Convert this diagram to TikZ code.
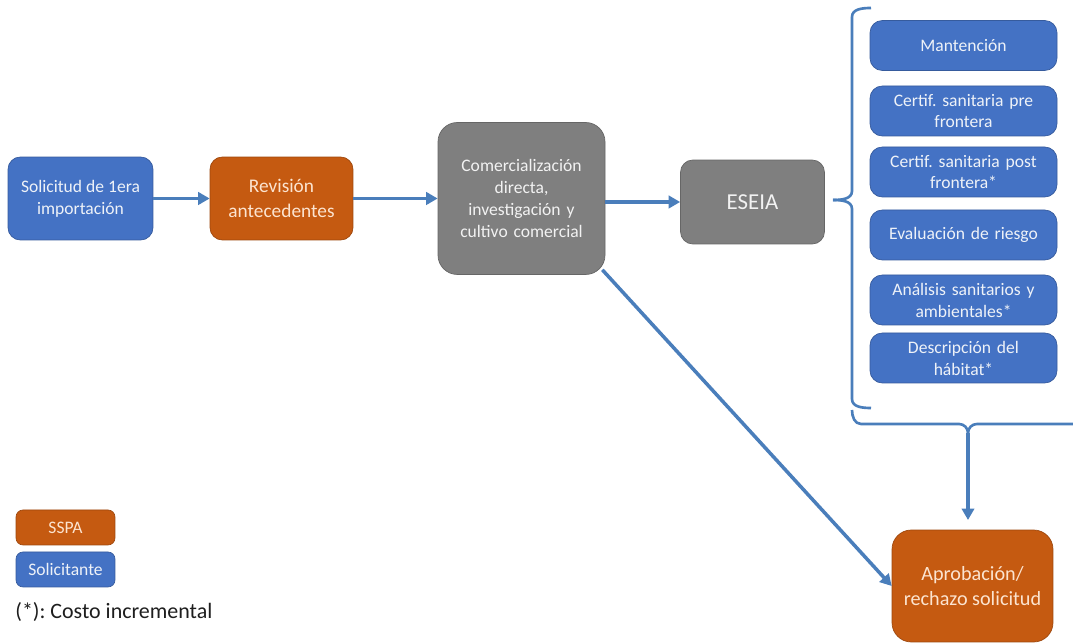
\documentclass[tikz,border=0pt]{standalone}
\usepackage{fontspec}
\setmainfont{Carlito}
\usetikzlibrary{positioning,calc}
\usetikzlibrary{arrows.meta}
\definecolor{AppBlue}{RGB}{68,114,196}
\definecolor{SspaOrange}{RGB}{197,90,17}
\definecolor{MidGray}{RGB}{127,127,127}
\definecolor{LinkBlue}{RGB}{74,126,187}
\definecolor{LightText}{RGB}{238,242,248}
\definecolor{CreamText}{RGB}{252,228,208}
\definecolor{GrayText}{RGB}{242,242,242}
\definecolor{DarkText}{RGB}{30,30,30}
\tikzset{
  blk/.style={rectangle,rounded corners=7pt,draw=#1!80!black,line width=0.4pt,fill=#1,
    text=LightText,align=center,inner sep=2pt,font=\fontsize{10}{12.5}\selectfont},
  bluebox/.style={blk=AppBlue},
  orangebox/.style={blk=SspaOrange,text=CreamText},
  graybox/.style={blk=MidGray,text=GrayText},
  arr/.style={draw=LinkBlue,line width=2pt,-{Triangle[length=6.5pt,width=7pt]}},
  brk/.style={draw=LinkBlue,line width=1.5pt},
}
\tikzset{side/.style={bluebox,minimum width=3.72cm,minimum height=1.0cm,text width=3.6cm}}

\begin{document}
\frenchspacing
\begin{tikzpicture}[x=0.02cm,y=-0.02cm]
\useasboundingbox[fill=white] (0,0) rectangle (1073,644);
% main row
\node[bluebox,minimum width=2.9cm,minimum height=1.66cm] (sol) at (80.5,198.5) {Solicitud de 1era\\importación};
\node[orangebox,minimum width=2.86cm,minimum height=1.66cm,font=\fontsize{11}{14}\selectfont] (rev) at (281.5,198.5) {Revisión\\antecedentes};
\node[graybox,rounded corners=11pt,minimum width=3.32cm,minimum height=3.04cm,text width=3.2cm] (com) at (521.5,198.5) {Comercialización\\directa,\\investigación y\\cultivo comercial};
\node[graybox,minimum width=2.88cm,minimum height=1.68cm,font=\fontsize{13}{15}\selectfont] (eseia) at (752.5,202) {ESEIA};
% ESEIA contents
\node[side] (man) at (963.5,45.5) {Mantención};
\node[side] (pre) at (963.5,111) {Certif. sanitaria pre\\frontera};
\node[side] (post) at (963.5,172) {Certif. sanitaria post\\frontera*};
\node[side] (eval) at (963.5,235) {Evaluación de riesgo};
\node[side] (ana) at (963.5,300) {Análisis sanitarios y\\ambientales*};
\node[side] (hab) at (963.5,358) {Descripción del\\hábitat*};
\node[orangebox,rounded corners=11pt,minimum width=3.22cm,minimum height=2.24cm,font=\fontsize{11.5}{14.5}\selectfont] (apr) at (972.5,586) {Aprobación/\\rechazo solicitud};
% legend
\node[orangebox,rounded corners=4pt,minimum width=1.98cm,minimum height=0.7cm] (lsspa) at (65.5,527.5) {SSPA};
\node[bluebox,rounded corners=4pt,minimum width=1.98cm,minimum height=0.7cm] (lsol) at (65.5,569.5) {Solicitante};
\node[anchor=west,inner sep=0pt,font=\fontsize{12.5}{15}\selectfont,text=DarkText] (cost) at (15,612) {(*): Costo incremental};
% braces
\coordinate (tipA) at (833,200);
\coordinate (tipB) at (968,433);
\draw[brk] (871,8) to[out=180,in=90] (852,17) -- (852,191) to[out=270,in=0] (tipA);
\draw[brk] (tipA) to[out=0,in=90] (852,209) -- (852,399) to[out=270,in=180] (871,408);
\draw[brk] (852,410) to[out=270,in=180] (861,424) -- (959,424) to[out=0,in=90] (tipB);
\draw[brk] (tipB) to[out=90,in=180] (977,424) -- (1073,424);
% connectors
\draw[arr] (sol) -- (rev);
\draw[arr] (rev) -- (com.west |- rev);
\draw[arr] (com.east |- eseia) -- (eseia);
\draw[arr] ([shift={(-3,-5)}]com.south east) -- (apr.west);
\draw[arr,shorten >=5.5pt] (tipB) -- (tipB |- apr.north);
\end{tikzpicture}
\end{document}
